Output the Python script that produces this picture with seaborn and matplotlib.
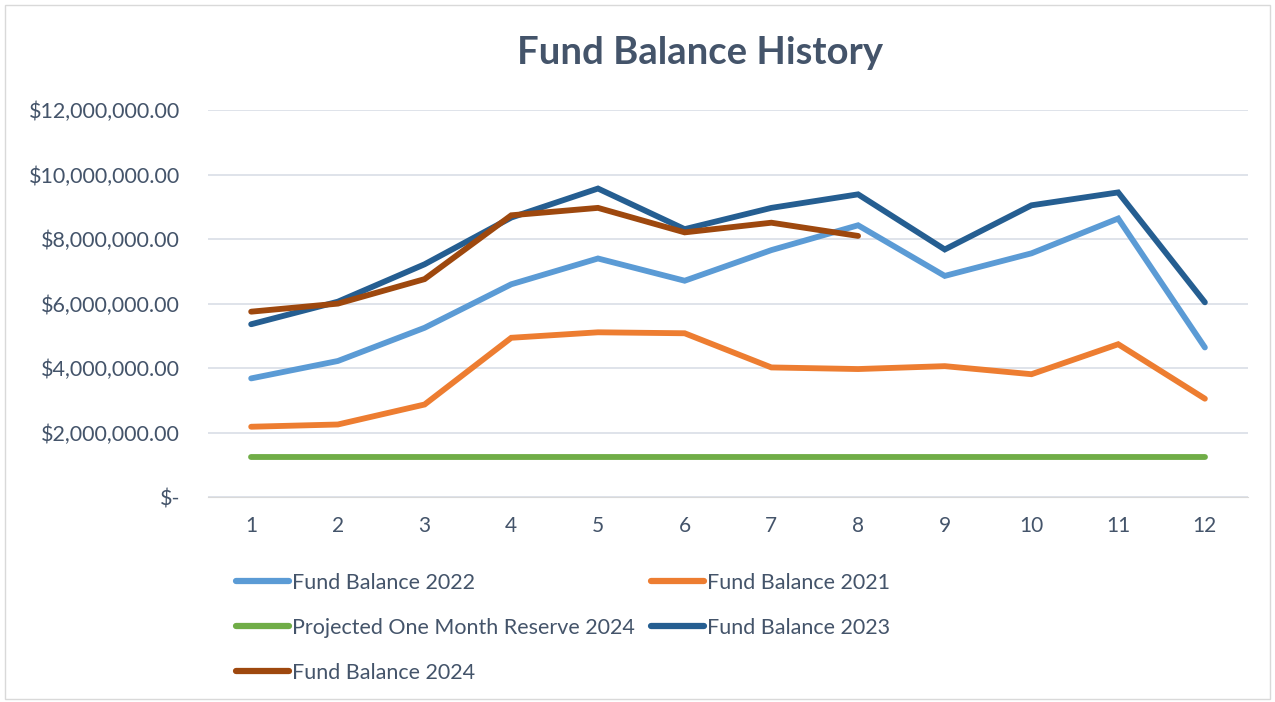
import matplotlib
matplotlib.use("Agg")
import matplotlib.pyplot as plt
import matplotlib.ticker as mticker
from matplotlib.patches import Rectangle
from matplotlib.lines import Line2D
import pandas as pd
import seaborn as sns

months = list(range(1, 13))
fund_2022 = [3.68, 4.22, 5.25, 6.60, 7.40, 6.71, 7.66, 8.43, 6.86, 7.56, 8.64, 4.64]
fund_2021 = [2.18, 2.25, 2.87, 4.94, 5.11, 5.08, 4.02, 3.97, 4.06, 3.81, 4.74, 3.05]
reserve_2024 = [1.25] * 12
fund_2023 = [5.36, 6.06, 7.22, 8.67, 9.57, 8.31, 8.97, 9.39, 7.68, 9.05, 9.45, 6.04]
fund_2024 = [5.75, 6.00, 6.76, 8.74, 8.97, 8.21, 8.51, 8.10]

series = {
    "Fund Balance 2022": fund_2022,
    "Fund Balance 2021": fund_2021,
    "Projected One Month Reserve 2024": reserve_2024,
    "Fund Balance 2023": fund_2023,
    "Fund Balance 2024": fund_2024,
}
palette = {
    "Fund Balance 2022": "#5B9BD5",
    "Fund Balance 2021": "#ED7D31",
    "Projected One Month Reserve 2024": "#70AD47",
    "Fund Balance 2023": "#255E91",
    "Fund Balance 2024": "#9E480E",
}

rows = []
for name, vals in series.items():
    for m, v in zip(months, vals):
        rows.append({"Month": m, "Value": v * 1e6, "Series": name})
df = pd.DataFrame(rows)

sns.set_style("white")
plt.rcParams["font.family"] = ["Lato", "DejaVu Sans"]
text_color = "#44546A"
grid_color = "#D9DEE6"

fig = plt.figure(figsize=(12.75, 7.02), dpi=100)
fig.patches.append(Rectangle((0.004, 0.004), 0.992, 0.989, transform=fig.transFigure,
                             fill=False, edgecolor="#D9D9D9", linewidth=1))
ax = fig.add_axes([0.163, 0.292, 0.816, 0.551])

sns.lineplot(data=df, x="Month", y="Value", hue="Series", palette=palette,
             hue_order=list(series.keys()), linewidth=4.2, ax=ax,
             solid_capstyle="round", solid_joinstyle="miter", legend=False)

ax.set_xlim(0.5, 12.5)
ax.set_ylim(0, 12e6)
ax.set_yticks([i * 2e6 for i in range(7)])
ax.yaxis.set_major_formatter(mticker.FuncFormatter(
    lambda v, p: "$-" if v == 0 else f"${v:,.2f}"))
ax.set_xticks(months)
ax.set_xticks([m + 0.5 for m in range(0, 13)], minor=True)
ax.tick_params(axis="x", which="major", length=0, pad=14, labelsize=15, labelcolor=text_color)
ax.tick_params(axis="x", which="minor", length=7, color="#D9D9D9", width=1)
ax.tick_params(axis="y", length=0, pad=20, labelsize=15.5, labelcolor=text_color)
ax.grid(axis="y", color=grid_color, linewidth=1.2)
ax.set_axisbelow(True)
for s in ["top", "right", "left"]:
    ax.spines[s].set_visible(False)
ax.spines["bottom"].set_color("#D9D9D9")
ax.set_xlabel("")
ax.set_ylabel("")

fig.text(0.549, 0.924, "Fund Balance History", ha="center", va="center",
         fontsize=27.5, fontweight="bold", color=text_color)

# legend in Excel's row-major order
order = ["Fund Balance 2022", "Projected One Month Reserve 2024", "Fund Balance 2024",
         "Fund Balance 2021", "Fund Balance 2023"]
handles = [Line2D([], [], color=palette[n], linewidth=4.5, solid_capstyle="round") for n in order]
leg = fig.legend(handles, order, ncol=2, loc="upper left", bbox_to_anchor=(0.178, 0.196),
                 frameon=False, fontsize=15.5, handlelength=2.5, handletextpad=0.1,
                 columnspacing=0.75, labelspacing=1.15, borderaxespad=0)
for t in leg.get_texts():
    t.set_color(text_color)

fig.savefig("out.png", dpi=100)
